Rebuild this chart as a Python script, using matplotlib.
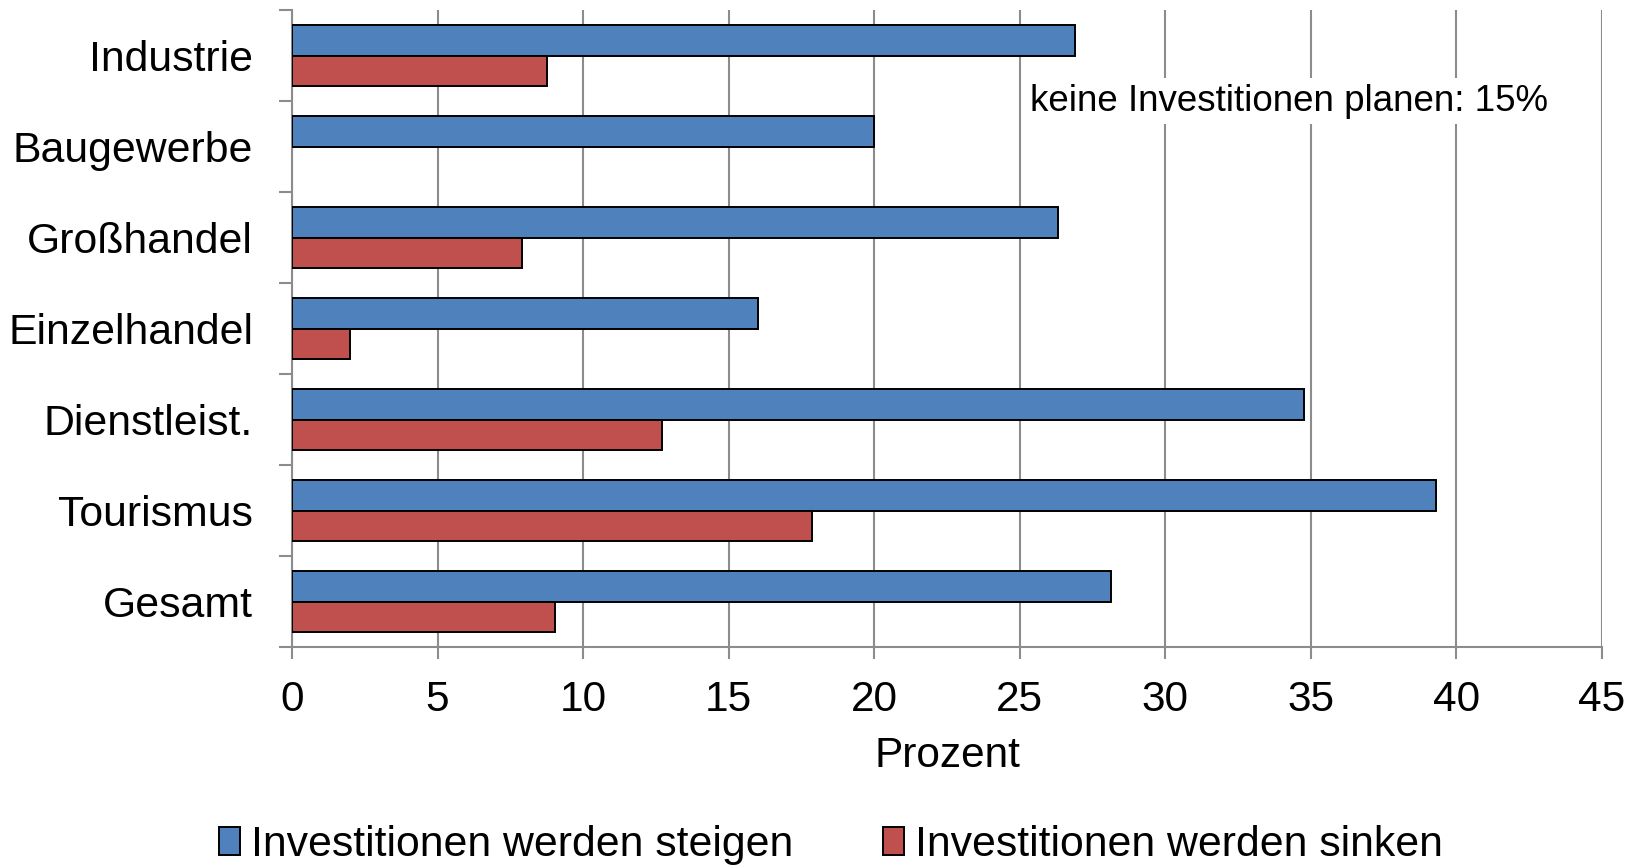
import numpy as np
import matplotlib
matplotlib.use("Agg")
import matplotlib.pyplot as plt
from matplotlib.ticker import MultipleLocator, FixedLocator

plt.rcParams['font.family'] = ['Liberation Sans', 'DejaVu Sans']

# data
categories = ['Industrie', 'Baugewerbe', 'Großhandel', 'Einzelhandel',
              'Dienstleist.', 'Tourismus', 'Gesamt']
steigen = [26.9, 20.0, 26.3, 16.0, 34.75, 39.3, 28.15]
sinken = [8.75, np.nan, 7.9, 2.0, 12.7, 17.85, 9.05]
series_labels = ['Investitionen werden steigen', 'Investitionen werden sinken']
note_text = 'keine Investitionen planen: 15%'

BLUE = '#4F81BD'
RED = '#C0504D'
GRID = '#8C8C8C'

fig = plt.figure(figsize=(16.35, 8.65), dpi=100)
ax = fig.add_axes([0.1786, 0.252, 0.8012, 0.7364])

y = np.arange(len(categories))
h = 1 / 3
b1 = ax.barh(y - h / 2, steigen, height=h, color=BLUE, edgecolor='black',
             linewidth=1.4, label=series_labels[0], zorder=3)
mask = ~np.isnan(sinken)
b2 = ax.barh(y[mask] + h / 2, np.array(sinken)[mask], height=h, color=RED,
             edgecolor='black', linewidth=1.4, label=series_labels[1], zorder=3)

ax.set_xlim(0, 45)
ax.set_ylim(len(categories) - 0.5, -0.5)
ax.xaxis.set_major_locator(MultipleLocator(5))
ax.grid(axis='x', color=GRID, linewidth=1.5, zorder=0)

ax.set_yticks(y)
ax.set_yticklabels(categories)
ax.yaxis.set_minor_locator(FixedLocator(np.arange(-0.5, len(categories), 1)))
ax.tick_params(axis='y', which='major', length=0, pad=28, labelsize=30.8)
ax.tick_params(axis='y', which='minor', length=9.5, width=1.5, color=GRID)
ax.tick_params(axis='x', which='major', length=8.5, width=1.5, color=GRID,
               pad=15, labelsize=30.5)

for side in ['top', 'right']:
    ax.spines[side].set_visible(False)
for side in ['left', 'bottom']:
    ax.spines[side].set_color(GRID)
    ax.spines[side].set_linewidth(1.5)

ax.set_xlabel('Prozent', fontsize=30.5, labelpad=12)

ax.text(34.25, 0.5, note_text, fontsize=26.5, ha='center', va='center',
        bbox=dict(facecolor='white', edgecolor='none', pad=4), zorder=4)

fig.legend(handles=[b1, b2], labels=series_labels, loc='center',
           bbox_to_anchor=(0.508, 0.023), ncol=2, frameon=False, fontsize=30.8,
           handlelength=0.5, handleheight=0.6, handletextpad=0.25,
           columnspacing=2.1)

fig.savefig('out.png', dpi=100)
